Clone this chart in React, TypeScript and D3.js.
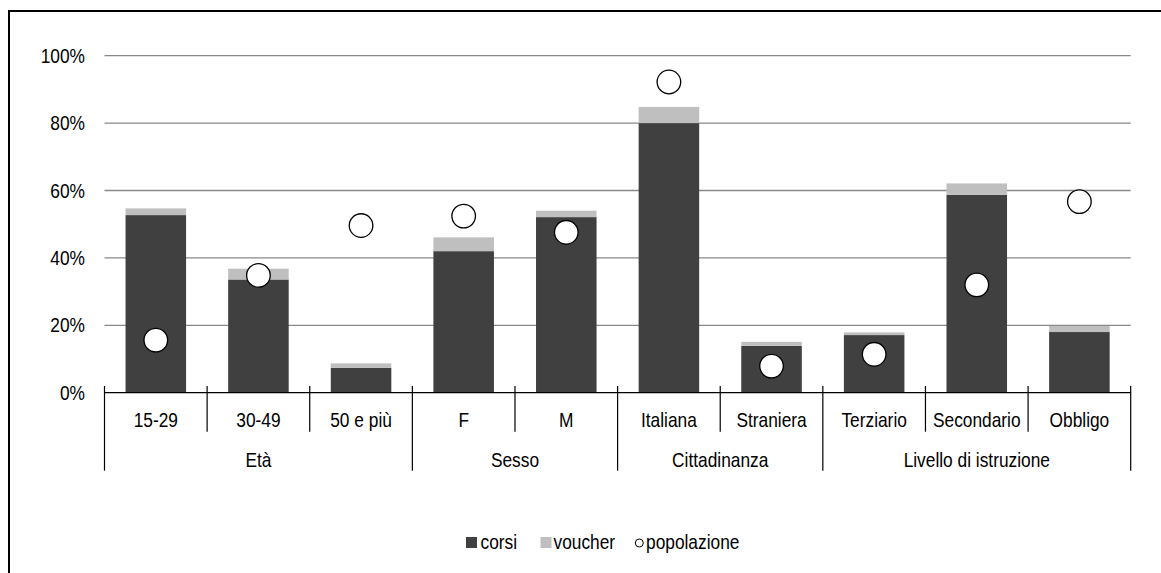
import React from "react";
import * as d3 from "d3";

const categories = ["15-29", "30-49", "50 e più", "F", "M", "Italiana", "Straniera", "Terziario", "Secondario", "Obbligo"];
const groups = [
  { name: "Età", start: 0, end: 3 },
  { name: "Sesso", start: 3, end: 5 },
  { name: "Cittadinanza", start: 5, end: 7 },
  { name: "Livello di istruzione", start: 7, end: 10 },
];
const corsi = [52.7, 33.6, 7.4, 42.0, 52.1, 80.0, 13.9, 17.1, 58.7, 18.0];
const voucher = [2.0, 3.2, 1.3, 4.1, 1.9, 4.8, 1.2, 0.8, 3.4, 1.8];
const popolazione = [15.6, 34.8, 49.6, 52.4, 47.6, 92.2, 7.9, 11.4, 32.0, 56.7];
const yTicks = [0, 20, 40, 60, 80, 100];
const legendItems = ["corsi", "voucher", "popolazione"];

const W = 1161;
const H = 573;
const left = 104.5;
const right = 1130.7;
const top = 55.7;
const bottom = 392.7;
const FONT = "'Liberation Sans', Arial, sans-serif";
const FS = 20.5;
const SX = 0.845;
const C_CORSI = "#404040";
const C_VOUCHER = "#bfbfbf";

function NText({ x, y, anchor = "start", dy, children }: { x: number; y: number; anchor?: string; dy?: string; children: React.ReactNode }) {
  return (
    <text
      transform={`translate(${x},${y}) scale(${SX},1)`}
      textAnchor={anchor}
      dy={dy}
      fontSize={FS}
      fill="#000"
    >
      {children}
    </text>
  );
}

export default function App() {
  const x = d3.scaleBand<string>().domain(categories).range([left, right]).padding(0);
  const y = d3.scaleLinear().domain([0, 100]).range([bottom, top]);
  const bw = x.bandwidth() * 0.59;
  const step = x.step();
  const edge = (i: number) => left + i * step;

  return (
    <svg width={W} height={H} style={{ position: "absolute", left: 0, top: 0 }} fontFamily={FONT}>
      <rect x={0} y={0} width={W} height={H} fill="#fff" />
      <rect x={9} y={11} width={W + 20} height={H + 20} fill="none" stroke="#000" strokeWidth={2} />
      {yTicks.map((t) => (
        <g key={t}>
          {t > 0 && <line x1={left} x2={right} y1={y(t)} y2={y(t)} stroke="#898989" strokeWidth={1.3} />}
          <NText x={85} y={y(t)} anchor="end" dy="0.35em">
            {t}%
          </NText>
        </g>
      ))}
      {categories.map((c, i) => {
        const cx = (x(c) as number) + x.bandwidth() / 2;
        return (
          <g key={c}>
            <rect x={cx - bw / 2} y={y(corsi[i])} width={bw} height={y(0) - y(corsi[i])} fill={C_CORSI} />
            <rect
              x={cx - bw / 2}
              y={y(corsi[i] + voucher[i])}
              width={bw}
              height={y(corsi[i]) - y(corsi[i] + voucher[i])}
              fill={C_VOUCHER}
            />
          </g>
        );
      })}
      <line x1={left} x2={right} y1={bottom} y2={bottom} stroke="#000" strokeWidth={1.2} />
      {d3.range(categories.length + 1).map((i) => {
        const isGroup = groups.some((g) => g.start === i) || i === categories.length;
        return (
          <line
            key={i}
            x1={edge(i)}
            x2={edge(i)}
            y1={386}
            y2={isGroup ? 470.7 : 431.7}
            stroke="#000"
            strokeWidth={1.2}
          />
        );
      })}
      {categories.map((c) => (
        <NText key={c} x={(x(c) as number) + x.bandwidth() / 2} y={426.5} anchor="middle">
          {c}
        </NText>
      ))}
      {groups.map((g) => (
        <NText key={g.name} x={(edge(g.start) + edge(g.end)) / 2} y={467} anchor="middle">
          {g.name}
        </NText>
      ))}
      {categories.map((c, i) => (
        <circle
          key={c}
          cx={(x(c) as number) + x.bandwidth() / 2}
          cy={y(popolazione[i])}
          r={11.8}
          fill="#fff"
          stroke="#000"
          strokeWidth={1.3}
        />
      ))}
      <g>
        <rect x={466} y={537} width={11} height={11} fill={C_CORSI} />
        <NText x={480.5} y={549.3}>{legendItems[0]}</NText>
        <rect x={540.5} y={537} width={11} height={11} fill={C_VOUCHER} />
        <NText x={553.5} y={549.3}>{legendItems[1]}</NText>
        <circle cx={639.3} cy={543} r={4} fill="#fff" stroke="#000" strokeWidth={1} />
        <NText x={646} y={549.3}>{legendItems[2]}</NText>
      </g>
    </svg>
  );
}
